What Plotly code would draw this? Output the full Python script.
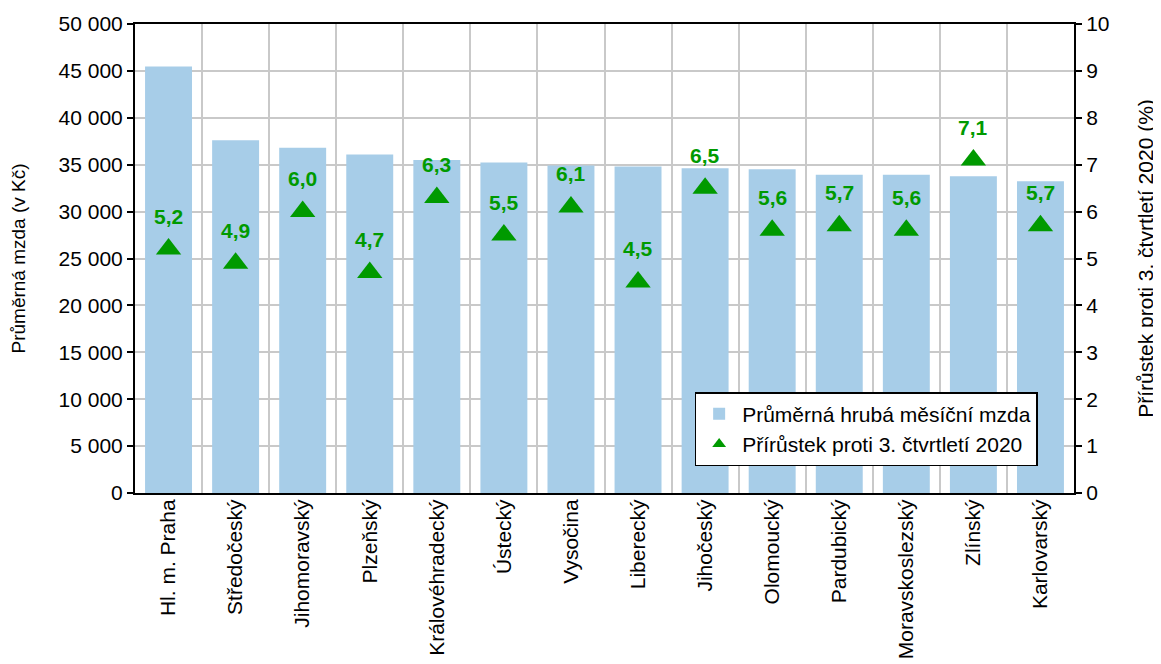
import plotly.graph_objects as go

regions = ["Hl. m. Praha", "Středočeský", "Jihomoravský", "Plzeňský", "Královéhradecký",
           "Ústecký", "Vysočina", "Liberecký", "Jihočeský", "Olomoucký", "Pardubický",
           "Moravskoslezský", "Zlínský", "Karlovarský"]
wages = [45480, 37600, 36820, 36080, 35510, 35230, 34910, 34800, 34620, 34510, 33920,
         33920, 33770, 33230]
growth = [5.2, 4.9, 6.0, 4.7, 6.3, 5.5, 6.1, 4.5, 6.5, 5.6, 5.7, 5.6, 7.1, 5.7]
growth_labels = [f"{g:.1f}".replace(".", ",") for g in growth]

left_ticks = list(range(0, 50001, 5000))
left_ticktext = [f"{v:,}".replace(",", " ") for v in left_ticks]
right_ticks = list(range(0, 11))

bar_color = "#a7cde8"
green = "#009a00"
grid = "#c9c9c9"
font = "Liberation Sans, Arial, sans-serif"

fig = go.Figure()
fig.add_trace(go.Bar(
    x=regions, y=wages, name="Průměrná hrubá měsíční mzda",
    marker=dict(color=bar_color, line=dict(width=0)), width=0.7, yaxis="y"))
fig.add_trace(go.Scatter(
    x=regions, y=growth, name="Přírůstek proti 3. čtvrtletí 2020", mode="markers",
    marker=dict(symbol="triangle-up", size=22, color=green), yaxis="y2"))

for r, g, t in zip(regions, growth, growth_labels):
    fig.add_annotation(x=r, y=g, xref="x", yref="y2", text=f"<b>{t}</b>",
                       showarrow=False, yshift=33, yanchor="middle",
                       font=dict(color=green, size=21, family=font))

fig.update_layout(
    width=1153, height=656,
    margin=dict(l=127, r=87, t=16, b=171, autoexpand=False),
    paper_bgcolor="white", plot_bgcolor="white",
    font=dict(family=font, size=21, color="black"),
    bargap=0.3,
    showlegend=True,
    legend=dict(x=0.596, y=0.215, xanchor="left", yanchor="top",
                bgcolor="white", bordercolor="black", borderwidth=1.5,
                font=dict(size=21), itemsizing="constant", itemwidth=36,
                tracegroupgap=0),
    xaxis=dict(
        type="category", range=[-0.5, len(regions) - 0.5], tickangle=-90,
        tickson="boundaries", showgrid=True,
        gridcolor=grid, gridwidth=1.5, ticks="", showline=True, linecolor="black",
        linewidth=2, mirror=True, tickfont=dict(size=21), automargin=False,
        ticklabelstandoff=-4),
    yaxis=dict(
        range=[0, 50000], tickvals=left_ticks, ticktext=left_ticktext,
        showgrid=True, gridcolor=grid, gridwidth=1.5, zeroline=False,
        showline=True, linecolor="black", linewidth=2, ticks="outside",
        ticklen=6, tickcolor="black", tickwidth=1.5, tickfont=dict(size=21),
        title=dict(text="Průměrná mzda (v Kč)", font=dict(size=19), standoff=28),
        automargin=False),
    yaxis2=dict(
        range=[0, 10], tickvals=right_ticks, overlaying="y", side="right",
        showgrid=False, zeroline=False, showline=True, linecolor="black",
        linewidth=2, ticks="outside", ticklen=6, tickcolor="black", tickwidth=1.5,
        tickfont=dict(size=21),
        title=dict(text="Přírůstek proti 3. čtvrtletí 2020 (%)", font=dict(size=21),
                   standoff=30),
        automargin=False),
)

fig.write_html("out.html")
